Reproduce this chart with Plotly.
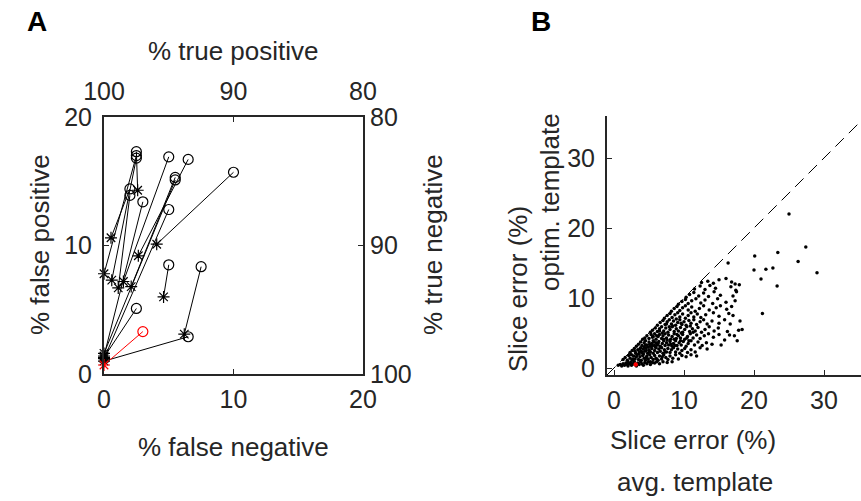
import plotly.graph_objects as go

W, H = 861, 501
FONT = "Arial, Liberation Sans, sans-serif"
TXT = "#262626"

# ---------------- Panel A data (asterisk = start, circle = end) ----------------
fn_start = [2.6, 0.0, 0.6, 0.54, 1.1, 0.0, 1.5, 2.1, 2.65, 4.07, 0.0, 0.0, 0.0, 0.0, 4.6, 6.2]
fp_start = [14.3, 7.8, 7.3, 10.6, 6.7, 1.4, 7.2, 6.8, 9.2, 10.1, 1.6, 1.2, 1.3, 1.0, 6.0, 3.1]
fn_end = [2.5, 2.5, 2.5, 2.0, 2.0, 3.0, 5.0, 5.5, 6.5, 10.0, 5.5, 5.0, 2.5, 6.5, 5.0, 7.5]
fp_end = [17.3, 17.0, 16.8, 14.4, 13.9, 13.4, 16.9, 15.3, 16.7, 15.7, 15.1, 12.8, 5.1, 2.9, 8.5, 8.35]
red_fn_start, red_fp_start = [0.0], [0.7]
red_fn_end, red_fp_end = [3.0], [3.3]

# ---------------- Panel B data ----------------
slice_avg = [
    0.6, 0.9, 1.1, 1.3, 1.5, 1.7, 1.9, 2.0, 2.2, 2.4, 2.5, 2.7, 2.9, 3.0, 3.2, 3.4, 3.6, 3.8, 4.0, 4.2, 4.4, 4.7, 4.9, 5.2, 5.5, 5.8, 6.1, 6.5, 7.0, 7.6, 8.3,
    1.3, 1.6, 1.9, 2.1, 2.3, 2.6, 2.8, 3.0, 3.3, 3.5, 3.7, 3.9, 4.1, 4.3, 4.5, 4.7, 4.9, 5.1, 5.3, 5.6, 5.8, 6.0, 6.3, 6.5, 6.8, 7.1, 7.4, 7.7, 8.0, 8.4, 8.8, 9.2, 9.7, 10.3, 11.0, 11.8,
    2.3, 2.6, 2.9, 3.1, 3.4, 3.6, 3.8, 4.0, 4.2, 4.4, 4.6, 4.8, 5.0, 5.2, 5.4, 5.6, 5.8, 6.0, 6.2, 6.4, 6.6, 6.8, 7.0, 7.2, 7.5, 7.7, 8.0, 8.2, 8.5, 8.8, 9.1, 9.4, 9.7, 10.1, 10.5, 11.0, 11.6, 12.3, 13.3,
    3.2, 3.5, 3.8, 4.0, 4.3, 4.5, 4.7, 5.0, 5.2, 5.4, 5.6, 5.8, 6.0, 6.2, 6.4, 6.6, 6.9, 7.1, 7.3, 7.5, 7.8, 8.0, 8.3, 8.5, 8.8, 9.0, 9.3, 9.6, 9.9, 10.3, 10.6, 11.0, 11.5, 12.0, 12.6, 13.2, 14.0, 15.3,
    4.1, 4.4, 4.7, 5.0, 5.3, 5.5, 5.8, 6.0, 6.3, 6.5, 6.8, 7.0, 7.3, 7.5, 7.8, 8.1, 8.3, 8.6, 8.9, 9.2, 9.5, 9.8, 10.1, 10.5, 10.9, 11.3, 11.8, 12.3, 12.9, 13.5, 14.2, 15.0, 16.5, 17.2, 17.6, 15.8,
    5.2, 5.5, 5.9, 6.2, 6.5, 6.8, 7.1, 7.4, 7.7, 8.0, 8.3, 8.6, 8.9, 9.2, 9.5, 9.8, 10.1, 10.4, 10.8, 11.2, 11.6, 12.0, 12.5, 13.0, 13.6, 14.3, 14.9, 16.2, 17.8, 18.3,
    6.2, 6.6, 7.0, 7.3, 7.6, 7.9, 8.2, 8.5, 8.8, 9.1, 9.4, 9.7, 10.0, 10.3, 10.7, 11.0, 11.4, 11.8, 12.3, 12.8, 13.3, 14.0, 15.0, 15.8, 16.6, 18.0,
    7.2, 7.6, 8.0, 8.3, 8.7, 9.1, 9.4, 9.8, 10.2, 10.6, 11.0, 11.4, 11.9, 12.4, 13.1, 14.2, 15.0, 16.4, 17.0,
    8.2, 8.6, 9.0, 9.4, 9.8, 10.2, 10.6, 11.1, 11.6, 12.2, 12.8, 13.6, 14.6, 15.2, 16.1, 16.8,
    9.2, 9.7, 10.2, 10.6, 11.1, 11.7, 12.4, 13.0, 14.1, 14.8, 16.0, 17.3,
    10.3, 10.8, 11.4, 12.1, 12.8, 13.5, 14.3, 15.2, 17.0, 17.5,
    11.5, 12.3, 13.0, 13.7, 14.5, 16.7, 17.4, 17.9,
    12.5, 13.4, 14.2, 15.0, 16.8, 17.3,
    2.0, 2.7, 3.2, 3.6, 4.2, 4.6, 5.1, 5.5, 5.9, 6.3, 6.7, 7.1, 7.6, 8.1, 8.6, 9.0, 9.6, 10.4, 7.9, 8.4, 6.9, 6.1, 5.7, 4.9, 4.3, 3.7, 3.0, 2.5, 4.6, 5.2, 6.1, 6.9, 7.3, 8.7, 9.5, 10.7, 11.3, 10.9, 9.6, 8.9, 7.5, 6.5, 5.6, 5.1, 4.5, 3.9,
    25.0, 27.4, 26.3, 29.0, 23.4, 23.3, 20.1, 20.0, 21.7, 22.7, 21.0, 21.2, 16.3, 16.0,
]
slice_opt = [
    0.4, 0.5, 0.3, 0.6, 0.4, 0.7, 0.5, 0.3, 0.6, 0.8, 0.4, 0.6, 0.9, 0.5, 0.3, 0.7, 0.5, 0.9, 0.6, 0.4, 0.8, 0.6, 0.9, 0.5, 0.8, 0.7, 0.9, 0.6, 0.9, 0.8, 0.9,
    1.2, 1.5, 1.1, 1.8, 1.4, 1.1, 1.7, 1.3, 1.9, 1.2, 1.6, 1.1, 1.8, 1.4, 1.1, 1.7, 1.3, 1.9, 1.5, 1.2, 1.8, 1.4, 1.1, 1.7, 1.3, 1.9, 1.5, 1.2, 1.7, 1.4, 1.9, 1.3, 1.8, 1.6, 1.9, 1.7,
    2.2, 2.5, 2.8, 2.1, 2.6, 2.3, 2.9, 2.2, 2.7, 2.4, 2.9, 2.1, 2.6, 2.3, 2.8, 2.1, 2.5, 2.9, 2.2, 2.7, 2.4, 2.9, 2.1, 2.6, 2.3, 2.8, 2.2, 2.6, 2.9, 2.3, 2.7, 2.1, 2.5, 2.8, 2.2, 2.6, 2.3, 2.9, 2.7,
    3.1, 3.4, 3.7, 3.2, 3.6, 3.9, 3.3, 3.7, 3.1, 3.5, 3.9, 3.2, 3.6, 3.3, 3.8, 3.1, 3.5, 3.9, 3.2, 3.6, 3.3, 3.8, 3.1, 3.5, 3.9, 3.2, 3.6, 3.3, 3.8, 3.1, 3.5, 3.9, 3.3, 3.7, 3.2, 3.6, 3.4, 3.3,
    4.1, 4.3, 4.6, 4.2, 4.8, 4.4, 4.9, 4.1, 4.5, 4.8, 4.2, 4.6, 4.9, 4.3, 4.7, 4.1, 4.5, 4.9, 4.2, 4.6, 4.3, 4.8, 4.1, 4.5, 4.9, 4.3, 4.7, 4.2, 4.6, 4.9, 4.4, 4.8, 4.7, 4.6, 3.9, 4.0,
    5.1, 5.4, 5.7, 5.2, 5.6, 5.9, 5.3, 5.7, 5.1, 5.5, 5.9, 5.2, 5.6, 5.3, 5.8, 5.1, 5.5, 5.9, 5.2, 5.6, 5.3, 5.8, 5.1, 5.5, 5.9, 5.3, 5.7, 5.2, 5.4, 5.5,
    6.1, 6.5, 6.8, 6.2, 6.6, 6.9, 6.3, 6.7, 6.1, 6.5, 6.9, 6.2, 6.6, 6.1, 6.8, 6.4, 6.9, 6.2, 6.6, 6.9, 6.3, 6.7, 6.4, 6.9, 6.3, 6.7,
    7.1, 7.5, 7.8, 7.2, 7.6, 7.9, 7.3, 7.7, 7.1, 7.5, 7.9, 7.3, 7.7, 7.2, 7.6, 7.9, 7.4, 7.8, 7.5,
    8.1, 8.5, 8.8, 8.2, 8.6, 8.9, 8.3, 8.7, 8.1, 8.5, 8.9, 8.3, 8.6, 8.9, 8.4, 8.8,
    9.1, 9.5, 9.8, 9.2, 9.6, 9.9, 9.3, 9.7, 9.2, 9.9, 9.4, 9.6,
    10.1, 10.5, 10.8, 10.3, 10.7, 10.2, 10.9, 10.4, 10.3, 10.9,
    11.3, 11.7, 11.2, 11.8, 11.4, 11.6, 11.1, 11.9,
    12.2, 12.4, 12.1, 12.6, 12.3, 12.0,
    0.9, 1.3, 1.6, 2.0, 2.0, 2.5, 2.4, 3.2, 3.0, 3.5, 3.0, 4.1, 4.0, 3.4, 4.1, 4.8, 5.0, 4.3, 5.9, 6.0, 5.0, 4.6, 3.7, 3.0, 3.0, 2.7, 2.4, 1.9, 1.5, 0.9, 1.3, 1.6, 2.3, 3.2, 3.9, 3.9, 5.1, 6.0, 6.4, 7.0, 6.3, 5.3, 4.5, 3.4, 3.3, 2.4,
    22.0, 17.3, 15.2, 13.6, 16.5, 11.7, 16.0, 14.0, 14.1, 14.3, 12.7, 7.8, 15.0, 12.8,
]
red_avg, red_opt = [3.1], [0.5]
diag = [-1, 36]
tick_a = [0, 10, 20]
tick_a_rev = [100, 90, 80]
tick_b = [0, 10, 20, 30]


def seg(xs0, ys0, xs1, ys1):
    X, Y = [], []
    for a, b, c, d in zip(xs0, ys0, xs1, ys1):
        X += [a, c, None]
        Y += [b, d, None]
    return X, Y


fig = go.Figure()

lx, ly = seg(fn_start, fp_start, fn_end, fp_end)
fig.add_trace(go.Scatter(x=lx, y=ly, mode="lines", line=dict(color="black", width=1),
                         xaxis="x", yaxis="y", hoverinfo="skip"))
rx, ry = seg(red_fn_start, red_fp_start, red_fn_end, red_fp_end)
fig.add_trace(go.Scatter(x=rx, y=ry, mode="lines", line=dict(color="red", width=1),
                         xaxis="x", yaxis="y", hoverinfo="skip"))
fig.add_trace(go.Scatter(x=fn_end, y=fp_end, mode="markers", cliponaxis=False,
                         marker=dict(symbol="circle-open", size=10, color="black", line=dict(width=1.2)),
                         xaxis="x", yaxis="y"))
fig.add_trace(go.Scatter(x=fn_start, y=fp_start, mode="markers", cliponaxis=False,
                         marker=dict(symbol="asterisk-open", size=10, color="black", line=dict(width=1.2, color="black")),
                         xaxis="x", yaxis="y"))
fig.add_trace(go.Scatter(x=red_fn_end, y=red_fp_end, mode="markers", cliponaxis=False,
                         marker=dict(symbol="circle-open", size=10, color="red", line=dict(width=1.2)),
                         xaxis="x", yaxis="y"))
fig.add_trace(go.Scatter(x=red_fn_start, y=red_fp_start, mode="markers", cliponaxis=False,
                         marker=dict(symbol="asterisk-open", size=10, color="red", line=dict(width=1.2, color="red")),
                         xaxis="x", yaxis="y"))
# dummy trace for the top/right axes
fig.add_trace(go.Scatter(x=[None], y=[None], xaxis="x2", yaxis="y2", hoverinfo="skip"))

# Panel B
fig.add_trace(go.Scatter(x=diag, y=diag, mode="lines", line=dict(color="black", width=1, dash="12px,7px"),
                         xaxis="x3", yaxis="y3", hoverinfo="skip"))
fig.add_trace(go.Scatter(x=slice_avg, y=slice_opt, mode="markers",
                         marker=dict(symbol="circle", size=3.5, color="black"),
                         xaxis="x3", yaxis="y3"))
fig.add_trace(go.Scatter(x=red_avg, y=red_opt, mode="markers",
                         marker=dict(symbol="circle", size=4.5, color="red"),
                         xaxis="x3", yaxis="y3"))


def px(x):
    return x / W


def py(y):
    return 1 - y / H


axbase = dict(showline=True, linewidth=2, linecolor=TXT, ticks="inside", ticklen=5, tickwidth=1,
              tickcolor=TXT, showgrid=False, zeroline=False, fixedrange=True, automargin=False,
              tickfont=dict(family=FONT, size=25, color=TXT))

fig.update_layout(
    width=W, height=H, margin=dict(l=0, r=0, t=0, b=0, autoexpand=False),
    paper_bgcolor="white", plot_bgcolor="white", showlegend=False,
    xaxis=dict(axbase, domain=[px(104), px(363)], range=[0, 20], tickvals=tick_a, anchor="y",
               ticklabelstandoff=2),
    yaxis=dict(axbase, domain=[py(374), py(117)], range=[0, 20], tickvals=tick_a, anchor="x",
               ticklabelstandoff=5),
    xaxis2=dict(axbase, overlaying="x", side="top", anchor="y", range=[100, 80], tickvals=tick_a_rev,
                ticklabelstandoff=5),
    yaxis2=dict(axbase, overlaying="y", side="right", anchor="x", range=[100, 80], tickvals=tick_a_rev),
    xaxis3=dict(axbase, domain=[px(607), 1.0], range=[-1, (W - 614) / 7.0], tickvals=tick_b, anchor="y3",
                ticklabelstandoff=2),
    yaxis3=dict(axbase, domain=[py(375), py(116)], range=[-1, 36], tickvals=tick_b, anchor="x3",
                ticklabelstandoff=5),
)

ann = [
    ("A", 37, 21, 0, 28, True),
    ("B", 541, 21, 0, 28, True),
    ("% true positive", 233, 51, 0, 26, False),
    ("% false negative", 233, 447, 0, 26, False),
    ("% false positive", 40, 245, -90, 26, False),
    ("% true negative", 433, 245, -90, 26, False),
    ("Slice error (%)", 518, 289, -90, 26, False),
    ("optim. template", 550, 202, -90, 26, False),
    ("Slice error (%)", 693, 440, 0, 26, False),
    ("avg. template", 695, 482, 0, 26, False),
]
for text, x, y, ang, size, bold in ann:
    fig.add_annotation(text=("<b>%s</b>" % text) if bold else text, x=px(x), y=py(y), xref="paper", yref="paper",
                       xanchor="center", yanchor="middle", showarrow=False, textangle=ang,
                       font=dict(family=FONT, size=size, color="black" if bold else TXT))

fig.write_html("out.html")
